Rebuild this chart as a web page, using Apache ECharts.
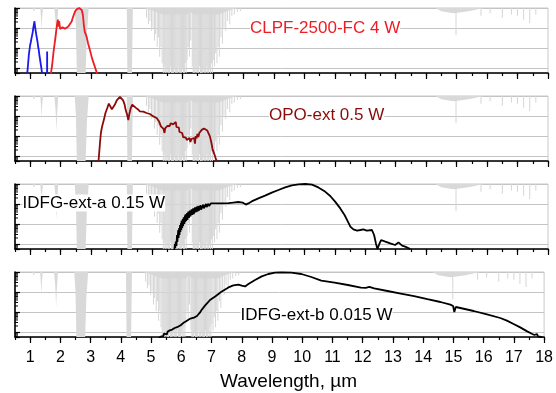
<!DOCTYPE html>
<html><head><meta charset="utf-8">
<script src="https://cdn.jsdelivr.net/npm/echarts@6/dist/echarts.min.js"></script>
<style>html,body{margin:0;padding:0;background:#fff}#c{width:556px;height:393px}</style>
</head><body><div id="c"></div>
<script>
// ---- tick labels (µm) ----
const tickLabels = ['1','2','3','4','5','6','7','8','9','10','11','12','13','14','15','16','17','18'];

// ---- spectra: [wavelength µm, decades below panel top] ----
const blueMain = [[0.90,3.3],[0.93,2.8],[0.954,2.35],[0.975,2.1],[0.997,1.85],[1.02,1.7],[1.04,1.52],[1.06,1.38],[1.085,1.18],[1.10,1.0],[1.118,0.85],[1.13,0.75],[1.14,0.66],[1.15,0.85],[1.16,0.95],[1.17,0.9],[1.18,1.15],[1.19,1.1],[1.20,1.35],[1.21,1.3],[1.22,1.52],[1.24,1.7],[1.26,1.93],[1.28,2.1],[1.30,2.35],[1.32,2.55],[1.35,2.85],[1.37,3.05],[1.39,3.3]];
const blueSpike = [[1.553,3.3],[1.555,2.18],[1.557,3.3]];
const redCLPF = [[1.677,3.3],[1.72,2.85],[1.766,2.18],[1.81,1.68],[1.85,1.18],[1.885,0.77],[1.907,0.58],[1.92,0.8],[1.93,0.93],[1.95,0.66],[1.965,0.85],[1.98,1.05],[2.0,0.95],[2.03,1.0],[2.06,0.96],[2.08,1.05],[2.11,1.02],[2.14,1.04],[2.19,0.98],[2.25,0.93],[2.30,0.85],[2.36,0.68],[2.41,0.43],[2.47,0.18],[2.52,0.07],[2.57,0.02],[2.61,0.0],[2.65,0.06],[2.69,0.1],[2.71,0.2],[2.73,0.35],[2.76,0.85],[2.79,1.18],[2.85,1.43],[2.90,1.77],[2.96,2.1],[3.03,2.52],[3.12,2.93],[3.20,3.3]];
const opoExt = [[3.24,3.3],[3.29,2.35],[3.32,1.85],[3.36,1.52],[3.42,1.18],[3.47,0.85],[3.53,0.6],[3.58,0.38],[3.64,0.48],[3.68,0.66],[3.72,0.58],[3.78,0.43],[3.84,0.22],[3.89,0.15],[3.945,0.04],[4.0,0.1],[4.05,0.22],[4.10,0.43],[4.13,0.68],[4.18,0.93],[4.22,1.2],[4.25,0.93],[4.30,0.6],[4.35,0.43],[4.40,0.5],[4.46,0.58],[4.53,0.66],[4.60,0.77],[4.66,0.76],[4.71,0.78],[4.77,0.82],[4.82,0.85],[4.93,0.9],[5.04,1.02],[5.15,1.1],[5.23,1.27],[5.29,1.52],[5.33,1.58],[5.37,1.63],[5.39,1.55],[5.41,1.85],[5.43,1.62],[5.47,1.56],[5.50,1.5],[5.53,1.6],[5.55,1.42],[5.58,1.5],[5.61,1.36],[5.64,1.45],[5.66,1.3],[5.69,1.42],[5.72,1.33],[5.75,1.48],[5.78,1.3],[5.80,1.55],[5.83,1.45],[5.85,1.65],[5.88,1.58],[5.90,1.8],[5.93,1.72],[5.96,1.9],[5.99,1.85],[6.02,2.05],[6.05,1.98],[6.08,2.15],[6.11,2.08],[6.14,2.2],[6.17,2.12],[6.2,2.18],[6.23,2.1],[6.26,2.3],[6.29,2.15],[6.32,2.05],[6.35,2.25],[6.38,2.1],[6.41,2.38],[6.43,2.0],[6.46,2.12],[6.49,1.9],[6.52,2.05],[6.55,1.85],[6.58,1.8],[6.61,1.9],[6.64,1.68],[6.67,1.75],[6.71,1.63],[6.74,1.68],[6.77,1.66],[6.81,1.72],[6.85,1.77],[6.90,2.02],[6.95,2.35],[6.99,2.68],[7.05,2.93],[7.10,3.18],[7.18,3.35]];
const idfgA = [[5.73,3.3],[5.75,3.0],[5.76,3.2],[5.78,2.88],[5.80,3.1],[5.82,2.55],[5.83,2.9],[5.86,2.3],[5.87,2.7],[5.89,2.2],[5.90,2.55],[5.92,2.05],[5.93,2.4],[5.95,1.95],[5.96,2.3],[5.97,1.83],[5.99,2.2],[6.01,1.75],[6.02,2.1],[6.04,1.67],[6.06,2.0],[6.08,1.58],[6.09,1.9],[6.10,1.52],[6.12,1.85],[6.15,1.45],[6.16,1.8],[6.19,1.38],[6.21,1.7],[6.24,1.33],[6.26,1.62],[6.30,1.27],[6.32,1.55],[6.35,1.22],[6.37,1.5],[6.41,1.17],[6.43,1.42],[6.47,1.13],[6.49,1.38],[6.52,1.1],[6.54,1.32],[6.59,1.06],[6.61,1.28],[6.68,1.03],[6.70,1.22],[6.77,1.0],[6.79,1.15],[6.85,0.98],[6.87,1.1],[6.93,0.97],[6.95,1.06],[7.07,0.97],[7.29,0.97],[7.51,0.96],[7.67,0.93],[7.83,0.9],[7.97,0.93],[8.08,1.03],[8.16,0.97],[8.27,0.87],[8.49,0.72],[8.71,0.58],[8.93,0.43],[9.15,0.3],[9.37,0.17],[9.59,0.07],[9.81,0.02],[10.03,0.0],[10.25,0.03],[10.46,0.17],[10.68,0.38],[10.85,0.6],[11.01,0.88],[11.18,1.22],[11.32,1.55],[11.43,1.88],[11.51,2.13],[11.61,2.27],[11.73,2.33],[11.84,2.3],[11.94,2.27],[12.05,2.33],[12.22,2.3],[12.29,2.55],[12.35,2.97],[12.40,3.25],[12.47,2.97],[12.52,2.8],[12.66,2.88],[12.82,2.97],[12.98,3.05],[13.09,2.92],[13.21,3.08],[13.31,3.13],[13.48,3.25]];
const idfgB = [[5.26,3.3],[5.33,3.22],[5.37,3.12],[5.40,3.22],[5.43,3.08],[5.46,3.18],[5.49,3.02],[5.52,3.12],[5.55,2.98],[5.58,3.05],[5.62,2.92],[5.65,2.98],[5.70,2.88],[5.74,2.92],[5.78,2.8],[5.81,2.84],[5.86,2.76],[5.92,2.72],[5.98,2.66],[6.03,2.6],[6.09,2.52],[6.14,2.47],[6.20,2.42],[6.25,2.38],[6.30,2.33],[6.35,2.3],[6.42,2.28],[6.47,2.27],[6.52,2.2],[6.57,2.13],[6.62,2.02],[6.68,1.88],[6.74,1.78],[6.79,1.67],[6.83,1.62],[6.85,1.58],[6.88,1.52],[6.90,1.47],[6.93,1.44],[6.95,1.40],[7.01,1.33],[7.12,1.22],[7.23,1.1],[7.34,0.97],[7.45,0.87],[7.56,0.77],[7.72,0.67],[7.89,0.63],[8.0,0.68],[8.11,0.72],[8.22,0.6],[8.44,0.4],[8.66,0.22],[8.88,0.1],[9.10,0.03],[9.31,0.02],[9.64,0.03],[9.97,0.1],[10.30,0.25],[10.63,0.43],[11.07,0.53],[11.51,0.65],[11.94,0.78],[12.1,0.79],[12.22,0.74],[12.38,0.82],[12.82,0.95],[13.26,1.08],[13.70,1.21],[14.14,1.36],[14.57,1.5],[14.90,1.63],[14.99,1.7],[15.03,2.0],[15.08,1.75],[15.23,1.8],[15.67,1.95],[16.11,2.12],[16.55,2.3],[16.77,2.43],[16.99,2.6],[17.21,2.77],[17.44,2.97],[17.61,3.1],[17.68,3.15],[17.72,3.22],[17.76,3.1],[17.80,3.22],[17.85,3.15],[17.9,3.25],[17.95,3.3]];

// ---- atmospheric absorption (depth as fraction of panel height, from top) ----
const atmBands = [[0.5,0],[1.08,0],[1.12,0.06],[1.16,0],[1.33,0],[1.36,0.2],[1.375,0.36],[1.39,0.15],[1.42,0],[1.79,0],[1.83,0.2],[1.86,0.54],[1.88,0.3],[1.92,0],[2.46,0],[2.50,0.3],[2.53,1],[2.82,1],[2.86,0.4],[2.92,0],[4.17,0],[4.19,1],[4.34,1],[4.37,0],[4.75,0],[5.0,0.04],[5.35,0.1],[6.15,0.1],[6.25,0.05],[6.35,0.1],[7.2,0.1],[7.5,0.04],[7.8,0],[14.3,0],[14.5,0.05],[14.9,0.08],[15.1,0.07],[15.4,0.05],[15.7,0.02],[15.9,0],[18,0]];
const atmLines = [[4.82,0.15],[4.88,0.25],[4.93,0.2],[4.98,0.35],[5.03,0.3],[5.08,0.5],[5.12,0.4],[5.17,0.6],[5.21,0.45],[5.25,0.75],[5.29,0.6],[5.33,0.85],
 [5.37,1],[5.40,0.9],[5.43,1],[5.46,1],[5.49,0.95],[5.52,1],[5.55,1],[5.58,1],[5.61,0.9],[5.64,1],[5.67,1],[5.70,1],[5.73,0.95],[5.76,1],[5.79,1],[5.82,1],[5.85,1],[5.88,0.9],[5.91,1],[5.94,1],[5.97,1],[6.00,0.95],[6.03,1],[6.06,1],[6.09,0.85],[6.12,1],[6.15,0.8],
 [6.19,0.6],[6.23,0.75],[6.27,0.5],
 [6.32,0.9],[6.35,1],[6.38,1],[6.41,1],[6.44,0.95],[6.47,1],[6.50,1],[6.53,1],[6.56,0.9],[6.59,1],[6.62,1],[6.65,1],[6.68,0.95],[6.71,1],[6.74,1],[6.77,1],[6.80,0.9],[6.83,1],[6.86,1],[6.89,0.95],[6.92,1],[6.95,0.85],[6.98,1],[7.01,0.8],[7.05,0.9],[7.09,0.7],[7.13,0.85],[7.17,0.6],[7.21,0.75],
 [7.26,0.45],[7.31,0.55],[7.36,0.3],[7.42,0.35],[7.48,0.2],[7.55,0.25],[7.62,0.12],[7.7,0.1],[7.8,0.06],[7.9,0.05],
 [14.98,0.42],[15.8,0.12],[16.1,0.08],[16.5,0.15],[16.8,0.1],[17.0,0.12],[17.2,0.18],[17.4,0.23],[17.6,0.1]];

const panelLabels = ['CLPF-2500-FC 4 W','OPO-ext 0.5 W','IDFG-ext-a 0.15 W','IDFG-ext-b 0.015 W'];

// ---- build ----
const FONT = '"Liberation Sans", Arial, sans-serif';
const tickCats = [];
tickLabels.forEach(l => { tickCats.push(String(Number(l) - 0.5)); tickCats.push(l); });
const minorTicks = [];
[0,1,2,3].forEach(d => { for (let m = 2; m <= 9; m++) { const v = d + 1 - Math.log10(m); if (v <= 3.25) minorTicks.push([0.5, v]); } });

const tops = [8, 96, 184, 272];
const grid = [], xAxis = [], yAxis = [], series = [];
const panelSeries = [
  [{d: blueMain, c: '#1a1aee'}, {d: blueSpike, c: '#1a1aee'}, {d: redCLPF, c: '#ee1c24'}],
  [{d: opoExt, c: '#8c0a0a'}],
  [{d: idfgA, c: '#000000'}],
  [{d: idfgB, c: '#000000'}]
];
tops.forEach((t, i) => {
  grid.push({left: 15, right: 8, top: t, height: 65, show: true, borderColor: '#c8c8c8', borderWidth: 1});
  xAxis.push({type: 'value', gridIndex: i, min: 0.5, max: 18, interval: 0.5, position: 'bottom',
    axisLine: {show: true, onZero: false, lineStyle: {color: '#000', width: 1.6}},
    axisTick: {show: true, length: 3, lineStyle: {color: '#000', width: 1.2}},
    axisLabel: {show: false}, splitLine: {show: false}});
  xAxis.push({type: 'category', gridIndex: i, data: tickCats, boundaryGap: false, position: 'bottom',
    axisLine: {show: false, onZero: false},
    axisTick: {show: true, length: 6, interval: (idx) => idx % 2 === 1, lineStyle: {color: '#000', width: 1.2}},
    axisLabel: {show: i === 3, interval: (idx) => idx % 2 === 1, fontSize: 16, color: '#000', margin: 13, fontFamily: FONT},
    splitLine: {show: false}});
  yAxis.push({type: 'value', gridIndex: i, inverse: true, min: 0, max: 3.25, interval: 1,
    axisLine: {show: true, onZero: false, lineStyle: {color: '#000', width: 1.6}},
    axisTick: {show: true, inside: true, length: 5, lineStyle: {color: '#000', width: 1.2}},
    axisLabel: {show: false},
    splitLine: {show: true, lineStyle: {color: '#c4c4c4', width: 1}}});
  yAxis.push({type: 'value', gridIndex: i, inverse: true, min: 0, max: 1, show: false});
  series.push({type: 'line', xAxisIndex: 2*i, yAxisIndex: 2*i+1, data: atmBands, symbol: 'none', silent: true,
    lineStyle: {width: 0}, areaStyle: {color: '#d9d9d9', opacity: 1, origin: 'start'}, z: 1});
  series.push({type: 'bar', xAxisIndex: 2*i, yAxisIndex: 2*i+1, data: atmLines, barWidth: 1, silent: true,
    itemStyle: {color: '#d6d6d6'}, z: 1});
  panelSeries[i].forEach(s => series.push({type: 'line', xAxisIndex: 2*i, yAxisIndex: 2*i, data: s.d, symbol: 'none',
    lineStyle: {color: s.c, width: 1.8}, z: 3, silent: true}));
  series.push({type: 'custom', xAxisIndex: 2*i, yAxisIndex: 2*i, data: minorTicks, clip: false, silent: true, z: 5,
    renderItem: (p, api) => { const c = api.coord([api.value(0), api.value(1)]);
      return {type: 'line', shape: {x1: c[0], y1: c[1], x2: c[0] + 3, y2: c[1]}, style: {stroke: '#000', lineWidth: 1}}; }});
});

const labelPos = [[250, 28, '#ee1c24'], [269, 115, '#8c0a0a'], [22.5, 203, '#000'], [240.5, 315, '#000']];
const graphic = panelLabels.map((txt, i) => ({type: 'text', x: labelPos[i][0], y: labelPos[i][1], z: 100,
  style: {text: txt, fill: labelPos[i][2], font: '17px ' + FONT, align: 'left', verticalAlign: 'middle', backgroundColor: '#fff'}}));
graphic.push({type: 'text', x: 288.5, y: 382, z: 100,
  style: {text: 'Wavelength, µm', fill: '#000', font: '19px ' + FONT, align: 'center', verticalAlign: 'middle'}});

const chart = echarts.init(document.getElementById('c'), null, {renderer: 'canvas'});
chart.setOption({animation: false, backgroundColor: '#fff', grid, xAxis, yAxis, series, graphic});
</script></body></html>
